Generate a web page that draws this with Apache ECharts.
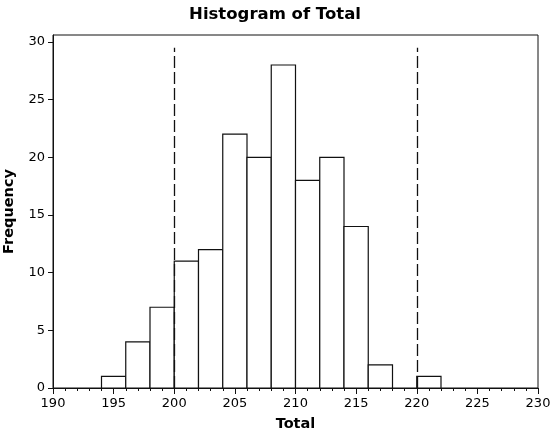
<!DOCTYPE html>
<html>
<head>
<meta charset="utf-8">
<script src="https://cdn.jsdelivr.net/npm/echarts@6/dist/echarts.min.js"></script>
<style>
  html, body { margin: 0; padding: 0; background: #fff; }
  #chart { width: 550px; height: 433px; }
</style>
</head>
<body>
<div id="chart"></div>
<script>
// bins of width 2, from the left edge
const binStarts = [194, 196, 198, 200, 202, 204, 206, 208, 210, 212, 214, 216, 218, 220]
const counts = [1, 4, 7, 11, 12, 22, 20, 28, 18, 20, 14, 2, 0, 1]
const binWidth = 2
const refLines = [200, 220]
const yTicks = [0, 5, 10, 15, 20, 25, 30]

const font = 'DejaVu Sans'
const ink = '#111'

const bins = binStarts.map((s, i) => [s, s + binWidth, counts[i]])

let myChart = echarts.init(document.getElementById('chart'))
myChart.setOption({
    animation: false,
    title: {
        text: 'Histogram of Total',
        left: 'center',
        top: 1,
        textStyle: { fontFamily: font, fontSize: 16.5, fontWeight: 'bold', color: '#000' }
    },
    grid: {
        left: 53,
        right: 12,
        top: 35,
        bottom: 45,
        outerBoundsMode: 'none',
        show: true,
        borderColor: ink,
        borderWidth: 1,
        backgroundColor: 'transparent'
    },
    xAxis: {
        type: 'value',
        min: 190,
        max: 230,
        interval: 5,
        name: 'Total',
        nameLocation: 'middle',
        nameGap: 29,
        nameTextStyle: { fontFamily: font, fontSize: 14.5, fontWeight: 'bold', color: '#000' },
        axisLine: { show: true, lineStyle: { color: ink } },
        axisTick: { show: true, length: 6, lineStyle: { color: ink } },
        minorTick: { show: true, splitNumber: 5, length: 3, lineStyle: { color: ink } },
        axisLabel: { fontFamily: font, fontSize: 13, color: '#000', margin: 9 },
        splitLine: { show: false }
    },
    yAxis: {
        type: 'value',
        min: 0,
        max: 30.6,
        interval: 5,
        name: 'Frequency',
        nameLocation: 'middle',
        nameGap: 36,
        nameTextStyle: { fontFamily: font, fontSize: 14.5, fontWeight: 'bold', color: '#000' },
        axisLine: { show: true, lineStyle: { color: ink } },
        axisTick: { show: true, length: 5, customValues: yTicks, lineStyle: { color: ink } },
        axisLabel: { fontFamily: font, fontSize: 13, color: '#000', margin: 8, customValues: yTicks },
        splitLine: { show: false }
    },
    series: [
        {
            type: 'custom',
            data: bins,
            encode: { x: [0, 1], y: 2 },
            renderItem: function (params, api) {
                if (api.value(2) <= 0) return
                const p0 = api.coord([api.value(0), api.value(2)])
                const p1 = api.coord([api.value(1), 0])
                return {
                    type: 'rect',
                    shape: { x: p0[0], y: p0[1], width: p1[0] - p0[0], height: p1[1] - p0[1] },
                    style: { fill: '#fff', stroke: ink, lineWidth: 1.2 }
                }
            },
            markLine: {
                silent: true,
                symbol: 'none',
                label: { show: false },
                lineStyle: { color: ink, type: [12, 4], width: 1.3 },
                data: refLines.map(v => [{ coord: [v, 0] }, { coord: [v, 29.5] }])
            }
        }
    ]
})
</script>
</body>
</html>
